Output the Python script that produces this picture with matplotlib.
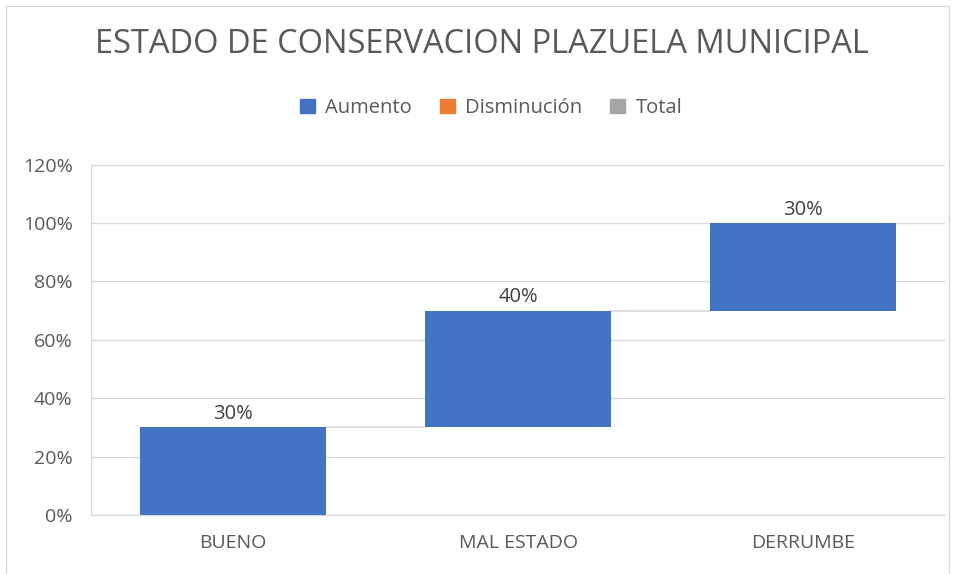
import matplotlib.pyplot as plt
from matplotlib.patches import Patch, Rectangle
import numpy as np

plt.rcParams['font.family'] = ['Open Sans', 'DejaVu Sans']

categorias = ['BUENO', 'MAL ESTADO', 'DERRUMBE']
valores = [0.30, 0.40, 0.30]
etiquetas = ['30%', '40%', '30%']
ticks_y = [0, 0.2, 0.4, 0.6, 0.8, 1.0, 1.2]
ticks_txt = ['0%', '20%', '40%', '60%', '80%', '100%', '120%']

azul = '#4472C4'
naranja = '#ED7D31'
gris = '#A5A5A5'
texto = '#595959'

fig = plt.figure(figsize=(9.55, 5.74), dpi=100)
ax = fig.add_axes([0.095, 0.103, 0.895, 0.61])

base = np.concatenate([[0], np.cumsum(valores)[:-1]])
x = np.arange(len(categorias))
ax.bar(x, valores, bottom=base, width=0.655, color=azul, zorder=3)

# conectores
for i in range(len(valores) - 1):
    y = base[i] + valores[i]
    ax.plot([x[i] + 0.3275, x[i + 1] - 0.3275], [y, y], color='#D9D9D9', lw=1.2, zorder=2)

for xi, b, v, t in zip(x, base, valores, etiquetas):
    ax.text(xi, b + v + 0.012, t, ha='center', va='bottom', fontsize=14.5, color='#404040')

ax.set_xlim(-0.5, 2.5)
ax.set_ylim(0, 1.2)
ax.set_yticks(ticks_y)
ax.set_yticklabels(ticks_txt)
ax.set_xticks(x)
ax.set_xticklabels(categorias)
ax.tick_params(axis='both', length=0, labelsize=14, colors=texto)
ax.tick_params(axis='y', pad=13)
ax.tick_params(axis='x', pad=14)
ax.grid(axis='y', color='#D9D9D9', lw=1, zorder=0)
for s in ['top', 'right']:
    ax.spines[s].set_visible(False)
ax.spines['left'].set_color('#D9D9D9')
ax.spines['bottom'].set_color('#D9D9D9')

fig.text(0.505, 0.922, 'ESTADO DE CONSERVACION PLAZUELA MUNICIPAL', ha='center', va='center',
         fontsize=23.5, color=texto)

handles = [Patch(color=azul), Patch(color=naranja), Patch(color=gris)]
fig.legend(handles, ['Aumento', 'Disminución', 'Total'], loc='center', bbox_to_anchor=(0.514, 0.812),
           ncol=3, frameon=False, fontsize=14.5, labelcolor=texto, handlelength=0.75, handleheight=0.75,
           handletextpad=0.5, columnspacing=1.4)

fig.patches.append(Rectangle((0.006, -0.01), 0.988, 1.0, transform=fig.transFigure,
                             fill=False, edgecolor='#D9D9D9', lw=1))

fig.savefig('out.png', dpi=100)
